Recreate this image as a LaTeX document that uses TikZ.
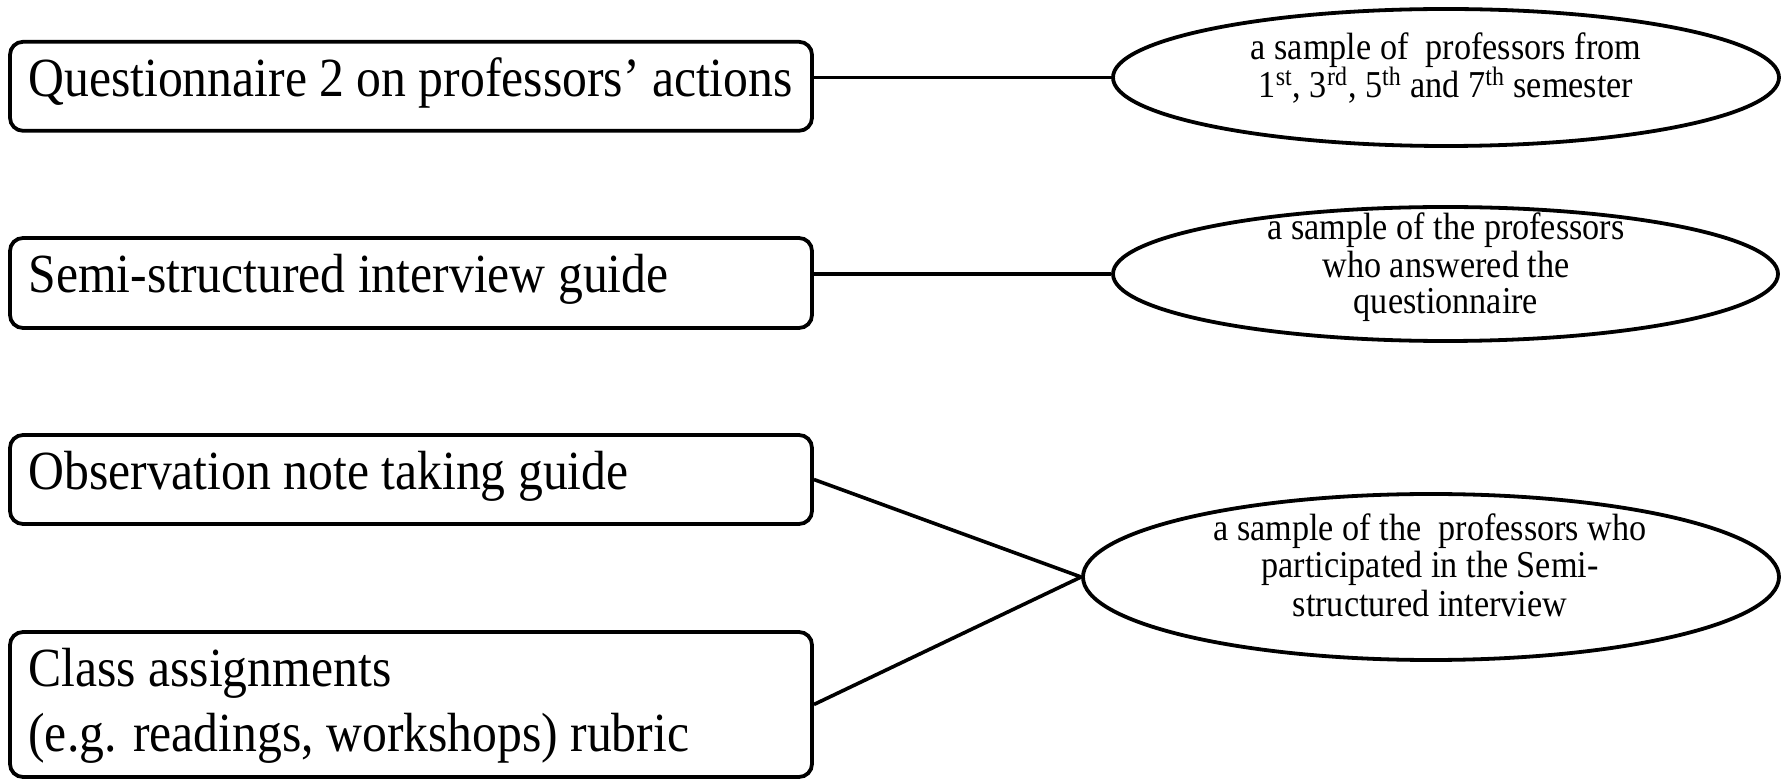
\documentclass[tikz,border=0pt]{standalone}
\usepackage{fontspec}
\setmainfont[FakeStretch=0.9]{Liberation Serif}
\usetikzlibrary{shapes.geometric}
\begin{document}
\begin{tikzpicture}[x=0.5pt,y=-0.5pt,
  tool/.style={draw, line width=1.9pt, rounded corners=6.5pt, minimum width=401pt, inner sep=0pt},
  sample/.style={draw, ellipse, line width=1.9pt, inner sep=0pt},
  link/.style={line width=1.8pt},
  boxtext/.style={anchor=base west, inner sep=0pt, font=\fontsize{27.6}{32}\selectfont},
  elltext/.style={anchor=base, inner sep=0pt, font=\fontsize{19}{19}\selectfont}]
\useasboundingbox (0,0) rectangle (1785,780);

% instruments
\node[tool, minimum height=44.5pt] (q) at (411,86.3) {};
\node[tool, minimum height=45pt]   (s) at (411,283) {};
\node[tool, minimum height=44.5pt] (o) at (411,479.5) {};
\node[tool, minimum height=72.5pt] (c) at (411,704.5) {};

\node[boxtext] (qt)  at (28,97)  {Questionnaire 2 on professors’ actions};
\node[boxtext] (st)  at (28,293) {Semi-structured interview guide};
\node[boxtext] (ot)  at (28,490) {Observation note taking guide};
\node[boxtext] (ct1) at (28,687) {Class assignments};
\node[boxtext] (ct2) at (28,751) {(e.g. readings, workshops) rubric};

% samples
\node[sample, minimum width=333pt, minimum height=68.5pt] (e1) at (1446,77.5) {};
\node[sample, minimum width=332.5pt, minimum height=67pt] (e2) at (1445.5,274) {};
\node[sample, minimum width=348pt, minimum height=83pt]   (e3) at (1431,577) {};

\node[elltext] (e1a) at (1446,60) {a sample of\ \ professors from};
\node[elltext] (e1b) at (1446,98) {1\textsuperscript{st}, 3\textsuperscript{rd}, 5\textsuperscript{th} and 7\textsuperscript{th} semester};

\node[elltext] (e2a) at (1446,240) {a sample of the professors};
\node[elltext] (e2b) at (1446,278) {who answered the};
\node[elltext] (e2c) at (1446,314) {questionnaire};

\node[elltext] (e3a) at (1430,541) {a sample of the\ \ professors who};
\node[elltext] (e3b) at (1430,578) {participated in the Semi-};
\node[elltext] (e3c) at (1430,617) {structured interview};

% connectors
\draw[link] (q.east |- e1.west) -- (e1.west);
\draw[link] (s.east |- e2.west) -- (e2.west);
\draw[link] (o.east) -- (e3.west);
\draw[link] (c.east) -- (e3.west);
\end{tikzpicture}
\end{document}
